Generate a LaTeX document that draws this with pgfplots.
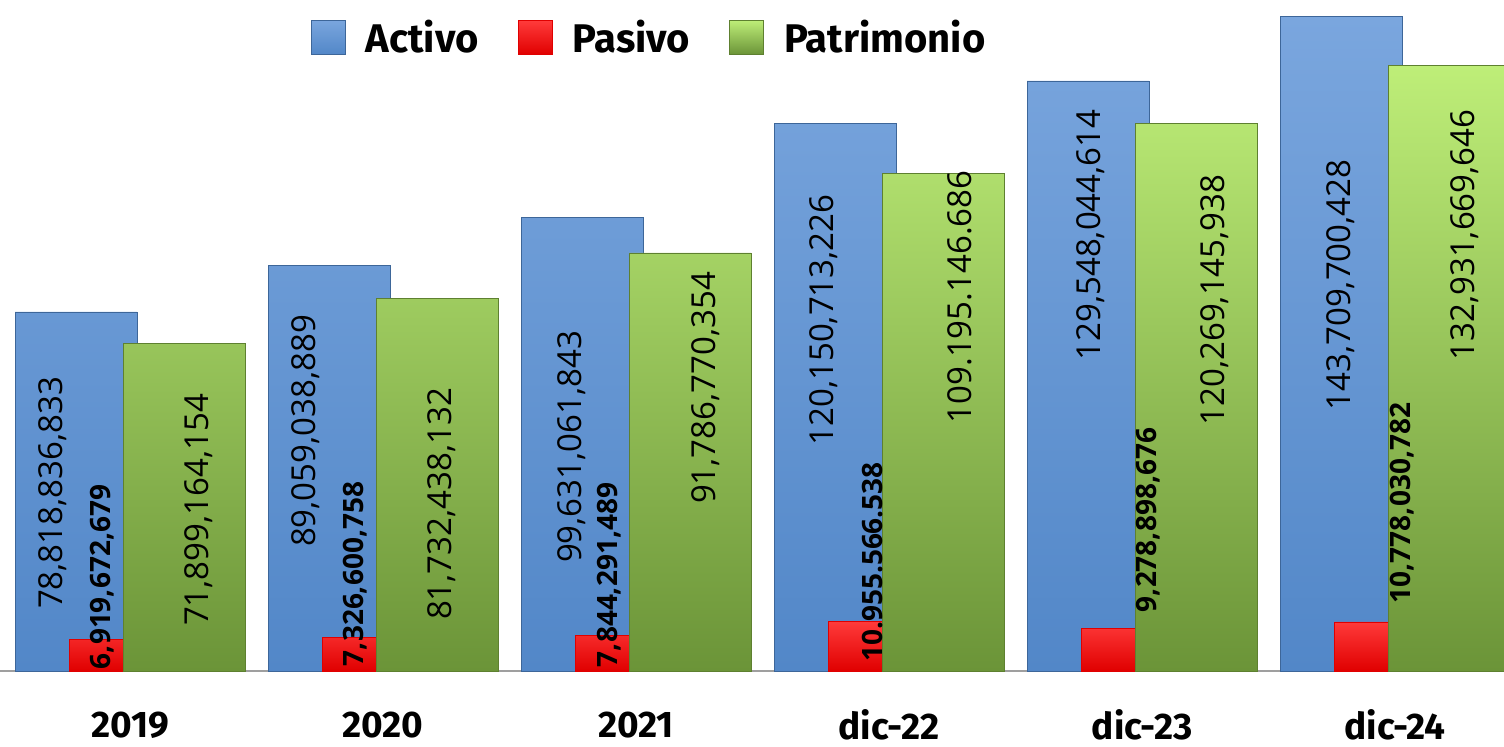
\documentclass[border=0pt]{standalone}
\usepackage{pgfplots}
\pgfplotsset{compat=1.18}
\usepackage{fontspec}
\setmainfont{Open Sans}
\newfontfamily\fira{Fira Sans}
\definecolor{bluetop}{HTML}{7AA6DE}
\definecolor{bluemid}{HTML}{5A8FD2}
\definecolor{bluebot}{HTML}{5287C8}
\definecolor{blueedge}{HTML}{3D6699}
\definecolor{greentop}{HTML}{BEEE78}
\definecolor{greenmid}{HTML}{9AD455}
\definecolor{greenbot}{HTML}{6B9438}
\definecolor{greenedge}{HTML}{5E8030}
\definecolor{redtop}{HTML}{FF3B3B}
\definecolor{redmid}{HTML}{FF0000}
\definecolor{redbot}{HTML}{E00000}
\begin{document}
\begin{tikzpicture}
\begin{axis}[
  at={(0,0)}, anchor=south west,
  scale only axis, width=752pt, height=373pt,
  xmin=-0.5138, xmax=5.4308, ymin=-16.465, ymax=147.31,
  axis line style={draw=none},
  xtick=\empty, ytick=\empty,
  extra y ticks={0}, extra y tick labels={},
  extra y tick style={grid=major, major grid style={draw=gray!75, line width=0.9pt}, major tick length=0pt},
  ybar, bar width=0.482,
  legend columns=3,
  legend style={at={(rel axis cs:0.431,0.950)}, anchor=center, draw=none, fill=none,
    font=\fira\bfseries\fontsize{20}{24}\selectfont,
    nodes={inner xsep=0pt, inner ysep=1pt},
    /tikz/every odd column/.append style={column sep=10pt},
    /tikz/every even column/.append style={column sep=19.5pt}},
  legend image code/.code={\path[#1] (0pt,-8.5pt) rectangle (17pt,8.5pt);},
]
\addplot[bar shift=-0.2134, draw=blueedge, line width=0.4pt, top color=bluetop, middle color=bluemid, bottom color=bluebot]
  coordinates {(0,78.818836833) (1,89.059038889) (2,99.631061843) (3,120.150713226) (4,129.548044614) (5,143.709700428)};
\addlegendentry{Activo}
\addplot[bar shift=0, draw=redbot, line width=0.4pt, top color=redtop, middle color=redmid, bottom color=redbot]
  coordinates {(0,6.919672679) (1,7.326600758) (2,7.844291489) (3,10.955566538) (4,9.278898676) (5,10.778030782)};
\addlegendentry{Pasivo}
\addplot[bar shift=0.2134, draw=greenedge, line width=0.4pt, top color=greentop, middle color=greenmid, bottom color=greenbot]
  coordinates {(0,71.899164154) (1,81.732438132) (2,91.786770354) (3,109.195146686) (4,120.269145938) (5,132.931669646)};
\addlegendentry{Patrimonio}
% value labels
\begin{scope}[every node/.style={rotate=90, font=\fontsize{16.5}{18}\selectfont, inner sep=0pt}]
\node at (axis cs:-0.3043,39.08) {78,818,836,833};
\node at (axis cs:0.6957,52.69) {89,059,038,889};
\node at (axis cs:1.747,49.18) {99,631,061,843};
\node at (axis cs:2.743,77.06) {120,150,713,226};
\node at (axis cs:3.798,95.72) {129,548,044,614};
\node at (axis cs:4.787,84.74) {143,709,700,428};
\node at (axis cs:0.2727,35.35) {71,899,164,154};
\node at (axis cs:1.233,36.66) {81,732,438,132};
\node at (axis cs:2.277,62.13) {91,786,770,354};
\node at (axis cs:3.281,82.11) {109.195.146.686};
\node at (axis cs:4.289,81.45) {120,269,145,938};
\node at (axis cs:5.277,95.72) {132,931,669,646};
\end{scope}
\begin{scope}[every node/.style={rotate=90, font=\bfseries\fontsize{14}{16}\selectfont, inner sep=0pt}]
\node at (axis cs:-0.1107,20.64) {6,919,672,679};
\node at (axis cs:0.8893,21.30) {7,326,600,758};
\node at (axis cs:1.893,21.08) {7,844,291,489};
\node at (axis cs:2.933,23.93) {10.955.566.538};
\node at (axis cs:4.024,33.15) {9,278,898,676};
\node at (axis cs:5.028,36.88) {10,778,030,782};
\end{scope}
\begin{scope}[every node/.style={font=\fira\bfseries\fontsize{18.5}{20}\selectfont, inner sep=0pt}]
\node at (axis cs:0,-11.8) {2019};
\node at (axis cs:1,-11.8) {2020};
\node at (axis cs:2,-11.8) {2021};
\node at (axis cs:3,-11.8) {dic-22};
\node at (axis cs:4,-11.8) {dic-23};
\node at (axis cs:5,-11.8) {dic-24};
\end{scope}
\end{axis}
\pgfresetboundingbox
\useasboundingbox (0,0) rectangle (752pt,373pt);
\end{tikzpicture}
\end{document}
